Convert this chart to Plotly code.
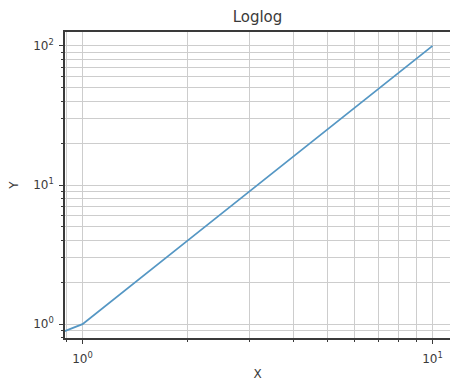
import numpy as np
import plotly.graph_objects as go

# Data (y = x squared, sampled at integers 0..10)
x_values = [0, 1, 2, 3, 4, 5, 6, 7, 8, 9, 10]
y_values = [0, 1, 4, 9, 16, 25, 36, 49, 64, 81, 100]

x_tick_vals = [1, 10]
x_tick_text = ["10<sup>0</sup>", "10<sup>1</sup>"]
y_tick_vals = [1, 10, 100]
y_tick_text = ["10<sup>0</sup>", "10<sup>1</sup>", "10<sup>2</sup>"]

title_text = "Loglog"
x_label = "X"
y_label = "Y"

# emulate matplotlib's nonpositive='clip' on log axes
TINY = 1e-300
x_plot = [v if v > 0 else TINY for v in x_values]
y_plot = [v if v > 0 else TINY for v in y_values]

x_minor = [m * 10.0 ** e for e in (-1, 0, 1) for m in range(2, 10)]
y_minor = [m * 10.0 ** e for e in (-1, 0, 1, 2) for m in range(2, 10)]

grid_col = "#cdcdcd"
axis_col = "#3a3a3a"
text_col = "#3a3a3a"
font_family = "DejaVu Sans"

fig = go.Figure()
fig.add_trace(go.Scatter(
    x=x_plot, y=y_plot, mode="lines",
    line=dict(color="#5597c4", width=1.8),
    showlegend=False, hoverinfo="skip",
))

fig.update_layout(
    width=450, height=383,
    margin=dict(l=65, r=0, t=32, b=45),
    paper_bgcolor="white", plot_bgcolor="white",
    font=dict(family=font_family, color=text_col, size=11),
    title=dict(text=title_text, x=0.5, xanchor="center", xref="paper",
               y=1 - 17 / 383, yanchor="middle",
               font=dict(size=15, color=text_col, family=font_family)),
)

fig.update_xaxes(
    type="log", range=[-0.05, 1.05],
    tickmode="array", tickvals=x_tick_vals, ticktext=x_tick_text,
    ticks="outside", ticklen=4, tickwidth=1, tickcolor=axis_col,
    ticklabelstandoff=5,
    showgrid=True, gridcolor=grid_col, gridwidth=1,
    showline=True, linecolor=axis_col, linewidth=1.5, mirror=True,
    zeroline=False,
    tickfont=dict(size=12, color=text_col),
    minor=dict(tickmode="array", tickvals=x_minor, ticks="outside",
               ticklen=2, tickcolor=axis_col, showgrid=True,
               gridcolor=grid_col, gridwidth=1),
    title=dict(text=x_label, standoff=4, font=dict(size=12, color=text_col)),
)

fig.update_yaxes(
    type="log", range=[-0.1, 2.1],
    tickmode="array", tickvals=y_tick_vals, ticktext=y_tick_text,
    ticks="outside", ticklen=4, tickwidth=1, tickcolor=axis_col,
    ticklabelstandoff=3,
    showgrid=True, gridcolor=grid_col, gridwidth=1,
    showline=True, linecolor=axis_col, linewidth=1.5, mirror=False,
    zeroline=False,
    tickfont=dict(size=12, color=text_col),
    minor=dict(tickmode="array", tickvals=y_minor, ticks="outside",
               ticklen=2, tickcolor=axis_col, showgrid=True,
               gridcolor=grid_col, gridwidth=1),
    title=dict(text=y_label, standoff=12, font=dict(size=12, color=text_col)),
)

fig.write_html("out.html")
